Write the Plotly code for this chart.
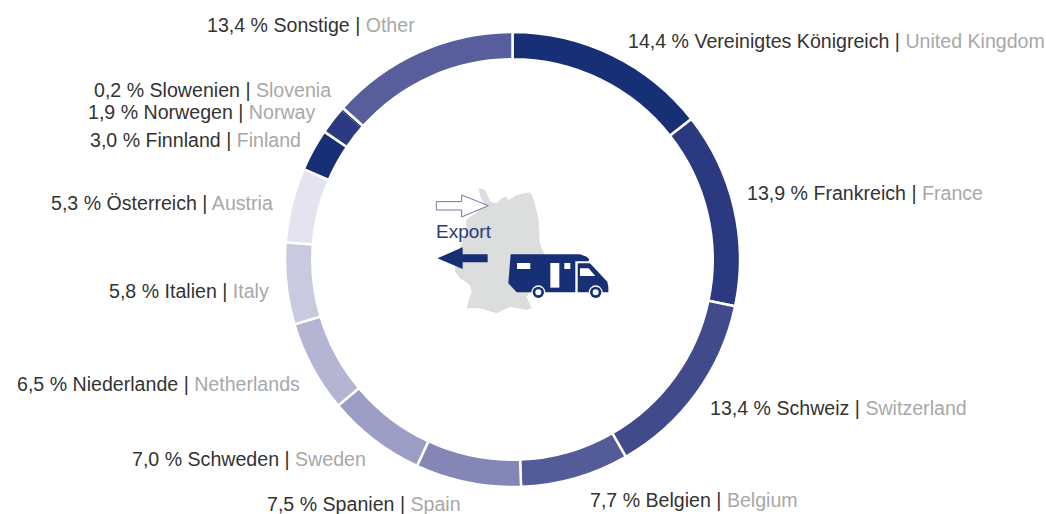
import plotly.graph_objects as go

W, H = 1046, 514

countries_de = ["Vereinigtes Königreich", "Frankreich", "Schweiz", "Belgien", "Spanien", "Schweden",
                "Niederlande", "Italien", "Österreich", "Finnland", "Norwegen", "Slowenien", "Sonstige"]
countries_en = ["United Kingdom", "France", "Switzerland", "Belgium", "Spain", "Sweden",
                "Netherlands", "Italy", "Austria", "Finland", "Norway", "Slovenia", "Other"]
shares = [14.4, 13.9, 13.4, 7.7, 7.5, 7.0, 6.5, 5.8, 5.3, 3.0, 1.9, 0.2, 13.4]

slice_colors = ["#172f75", "#2b3a80", "#414b8c", "#535b98", "#8486b6", "#9c9dc5", "#b4b4d3",
                "#c9c9e0", "#e4e3f0", "#172f75", "#2b3a80", "#2b3a80", "#585e9b"]
slice_line_widths = [2.5, 2.5, 2.5, 2.5, 2.5, 2.5, 2.5, 2.5, 2.5, 2.5, 0, 0, 2.5]

label_left = [627, 746, 709, 589, 266, 131, 16, 108, 50, 89, 87, 93, 206]
label_mid = [41, 193, 408, 500, 504, 459, 384, 291, 203, 140, 112, 90, 25]

CX, CY, R = 512.5, 259.5, 227.5


def px(x):
    return x / W


def py(y):
    return 1 - y / H


def zoom_pt(zx, zy):
    """Icon drawing coordinates (3x crop) to paper coordinates."""
    return px(420 + zx / 3), py(170 + zy / 3)


def poly(points):
    parts = []
    for i, (zx, zy) in enumerate(points):
        x, y = zoom_pt(zx, zy)
        parts.append(("M" if i == 0 else "L") + f"{x:.5f},{y:.5f}")
    return " ".join(parts) + " Z"


def shape(points, fill, line=None, width=0):
    return dict(type="path", xref="paper", yref="paper", path=poly(points), fillcolor=fill,
                line=dict(color=line or fill, width=width), layer="above")


def circle(zx, zy, zr, fill):
    x0, y0 = zoom_pt(zx - zr, zy - zr)
    x1, y1 = zoom_pt(zx + zr, zy + zr)
    return dict(type="circle", xref="paper", yref="paper", x0=x0, y0=y0, x1=x1, y1=y1,
                fillcolor=fill, line=dict(width=0), layer="above")


germany = [(175, 55), (195, 60), (205, 80), (210, 95), (230, 100), (245, 85), (258, 80), (265, 90), (290, 75),
           (315, 70), (330, 67), (340, 85), (348, 115), (355, 145), (358, 180), (358, 210), (365, 235),
           (375, 255), (372, 300), (340, 345), (320, 380), (335, 415), (320, 420), (270, 410), (230, 430),
           (180, 415), (140, 415), (145, 395), (155, 365), (150, 345), (120, 325), (105, 305), (105, 285),
           (108, 255), (125, 220), (140, 185), (138, 150), (150, 140), (170, 130), (190, 100), (180, 75)]
arrow_out = [(49, 95), (125, 95), (125, 75), (205, 107), (125, 141), (125, 120), (49, 120)]
arrow_in = [(52, 265), (128, 232), (128, 253), (203, 253), (203, 277), (128, 277), (128, 297)]
camper_body = [(272, 253), (480, 253), (500, 260), (508, 268), (505, 274), (466, 274), (466, 367), (290, 367),
               (265, 340)]
camper_cab = [(473, 280), (510, 280), (562, 335), (565, 350), (565, 367), (473, 367)]
win_1 = [(291, 279), (331, 279), (331, 297), (291, 297)]
door = [(391, 279), (418, 279), (418, 353), (391, 353)]
win_2 = [(433, 279), (451, 279), (451, 297), (433, 297)]
cab_win = [(480, 295), (506, 295), (526, 318), (480, 318)]

NAVY = "#172f75"
shapes = [
    shape(germany, "#dcdddd"),
    shape(arrow_out, "#ffffff", "#6f77ad", 1),
    shape(arrow_in, NAVY),
    shape(camper_body, NAVY), shape(camper_cab, NAVY),
    shape(win_1, "#ffffff"), shape(door, "#ffffff"), shape(win_2, "#ffffff"), shape(cab_win, "#ffffff"),
    circle(355, 367, 21, "#ffffff"), circle(355, 367, 17, NAVY), circle(355, 367, 9, "#ffffff"),
    circle(527, 367, 21, "#ffffff"), circle(527, 367, 17, NAVY), circle(527, 367, 9, "#ffffff"),
]

FONT = "Liberation Sans"
annotations = []
for de, en, v, lx, ly in zip(countries_de, countries_en, shares, label_left, label_mid):
    pct = f"{v:.1f}".replace(".", ",")
    annotations.append(dict(
        xref="paper", yref="paper", x=px(lx), y=py(ly), xanchor="left", yanchor="middle", showarrow=False,
        align="left",
        text=f"<span style='color:#333333'>{pct} % {de} | </span><span style='color:#a8a8a8'>{en}</span>",
        font=dict(family=FONT, size=19.6), borderpad=0))
annotations.append(dict(xref="paper", yref="paper", x=px(435), y=py(232), xanchor="left", yanchor="middle",
                        showarrow=False, text="Export", font=dict(family=FONT, size=19, color="#2b3a80"),
                        borderpad=0))

domain = dict(x=[px(CX - R), px(CX + R)], y=[py(CY + R), py(CY - R)])
fig = go.Figure(go.Pie(
    labels=countries_en, values=shares, sort=False, direction="clockwise", rotation=0, hole=0.88,
    marker=dict(colors=slice_colors, line=dict(color="#ffffff", width=slice_line_widths)),
    textinfo="none", showlegend=False, domain=domain,
))
# The 0.2 % sliver is not separated from Norway in the reference: one outline around both.
fig.add_trace(go.Pie(
    labels=["before", "Norway + Slovenia", "after"],
    values=[sum(shares[:10]), shares[10] + shares[11], shares[12]],
    sort=False, direction="clockwise", rotation=0, hole=0.88,
    marker=dict(colors=["rgba(0,0,0,0)"] * 3, line=dict(color="#ffffff", width=[0, 2.5, 0])),
    textinfo="none", showlegend=False, hoverinfo="skip", domain=domain,
))
fig.update_layout(width=W, height=H, margin=dict(l=0, r=0, t=0, b=0), paper_bgcolor="#ffffff",
                  shapes=shapes, annotations=annotations, showlegend=False)
fig.write_html("out.html", config=dict(displayModeBar=False),
               post_script="document.body.style.margin='0';document.documentElement.style.overflow='hidden';")
